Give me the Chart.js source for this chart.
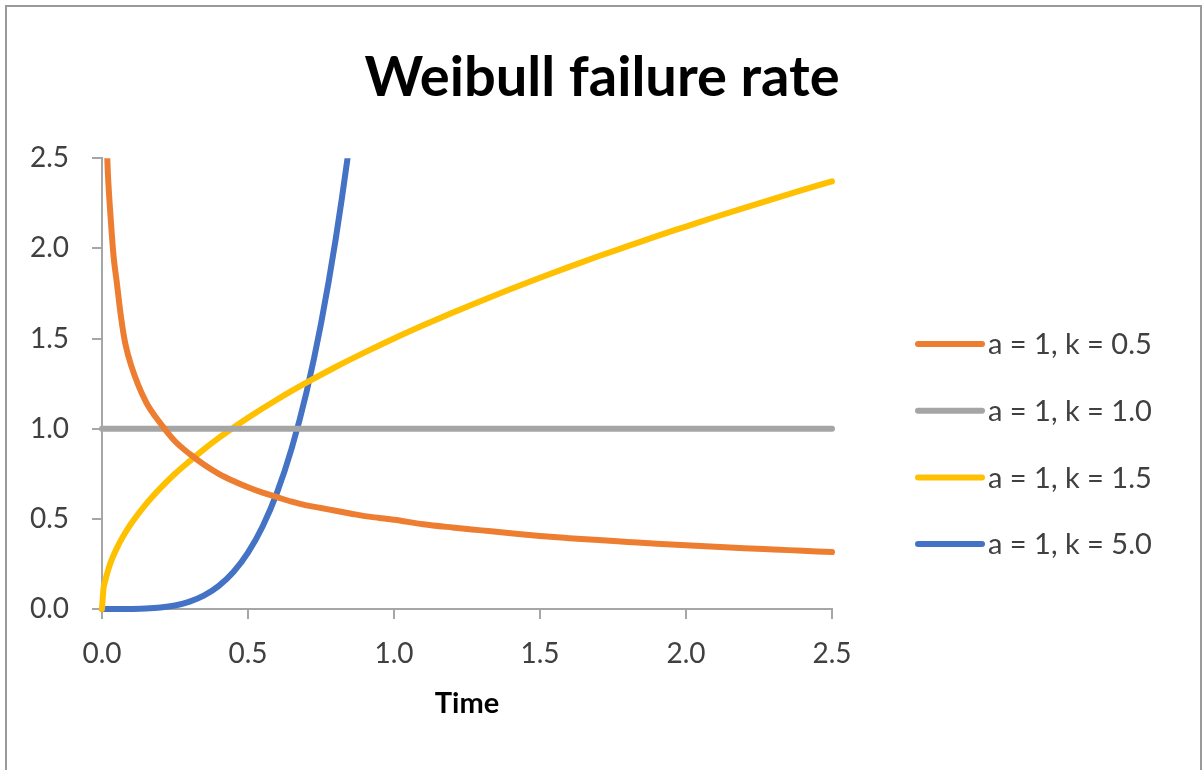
<!DOCTYPE html>
<html>
<head>
<meta charset="utf-8">
<script src="https://cdn.jsdelivr.net/npm/chart.js@4.4.1/dist/chart.umd.min.js"></script>
<style>
  html, body { margin: 0; padding: 0; background: #fff; }
  #wrap { position: relative; width: 1204px; height: 770px; overflow: hidden; }
  #frame { position: absolute; left: 5px; top: 5px; width: 1197px; height: 800px;
           box-sizing: border-box; border: 2px solid #9a9a9a; pointer-events: none; }
  canvas { position: absolute; left: 0; top: 0; }
</style>
</head>
<body>
<div id="wrap">
  <canvas id="c" width="1204" height="770"></canvas>
  <div id="frame"></div>
</div>
<script>
// ---- data ----
const chartTitle = "Weibull failure rate";
const xAxisTitle = "Time";
const seriesNames = ["a = 1, k = 0.5", "a = 1, k = 1.0", "a = 1, k = 1.5", "a = 1, k = 5.0"];
const seriesColors = ["#ED7D31", "#A5A5A5", "#FFC000", "#4472C4"];

const timeK05 = [0.01, 0.02, 0.03, 0.04, 0.05, 0.065, 0.08, 0.1, 0.15, 0.2, 0.25, 0.3, 0.35, 0.4, 0.45, 0.5,
                 0.55, 0.6, 0.65, 0.7, 0.75, 0.8, 0.85, 0.9, 0.95, 1.0, 1.1, 1.2, 1.3, 1.4, 1.5, 1.6, 1.7,
                 1.8, 1.9, 2.0, 2.1, 2.2, 2.3, 2.4, 2.5];
const rateK05 = [2.85, 2.42, 2.16, 1.95, 1.82, 1.62, 1.47, 1.35, 1.15, 1.03, 0.93, 0.86, 0.80, 0.75, 0.71, 0.675,
                 0.645, 0.62, 0.595, 0.575, 0.56, 0.545, 0.53, 0.515, 0.505, 0.495, 0.47, 0.452, 0.436, 0.42, 0.405, 0.393, 0.382,
                 0.372, 0.362, 0.353, 0.345, 0.337, 0.33, 0.323, 0.316];

const timeK10 = [0.0, 2.5];
const rateK10 = [1.0, 1.0];

const timeK15 = [0.0, 0.005, 0.01, 0.02, 0.03, 0.05, 0.075, 0.1, 0.15, 0.2, 0.25, 0.3, 0.35, 0.4, 0.45, 0.5,
                 0.6, 0.7, 0.8, 0.9, 1.0, 1.1, 1.2, 1.3, 1.4, 1.5, 1.6, 1.7, 1.8, 1.9, 2.0, 2.1, 2.2, 2.3, 2.4, 2.5];
const rateK15 = [0.0, 0.11, 0.15, 0.21, 0.26, 0.335, 0.41, 0.474, 0.58, 0.67, 0.75, 0.82, 0.887, 0.949, 1.006, 1.061,
                 1.162, 1.255, 1.342, 1.423, 1.5, 1.573, 1.643, 1.71, 1.775, 1.837, 1.897, 1.956, 2.012, 2.068, 2.121, 2.174, 2.225, 2.275, 2.324, 2.372];

const timeK50 = [0.0, 0.05, 0.1, 0.15, 0.2, 0.25, 0.3, 0.35, 0.4, 0.45, 0.5, 0.55, 0.6, 0.65, 0.7, 0.75, 0.8, 0.85, 0.9];
const rateK50 = [0.0, 0.0, 0.0005, 0.0025, 0.008, 0.0195, 0.0405, 0.075, 0.128, 0.205, 0.3125, 0.4575, 0.648, 0.893, 1.2, 1.582, 2.048, 2.61, 3.28];

const axisTicks = [0.0, 0.5, 1.0, 1.5, 2.0, 2.5];

// ---- build chart ----
const pairs = (xs, ys) => xs.map((x, i) => ({ x: x, y: ys[i] }));
const seriesData = [pairs(timeK05, rateK05), pairs(timeK10, rateK10), pairs(timeK15, rateK15), pairs(timeK50, rateK50)];

const FONT = "Lato, 'Open Sans', 'DejaVu Sans', sans-serif";
const AXIS_COLOR = "#A6A6A6";
const TEXT_COLOR = "#404040";

const datasets = seriesData.map((d, i) => ({
  label: seriesNames[i],
  data: d,
  xAxisID: 'x',
  yAxisID: 'y',
  borderColor: seriesColors[i],
  backgroundColor: seriesColors[i],
  borderWidth: 6,
  pointRadius: 0,
  pointHoverRadius: 0,
  fill: false,
  cubicInterpolationMode: 'monotone',
  borderJoinStyle: 'round',
  borderCapStyle: 'round',
  clip: { left: 10, top: 0, right: 10, bottom: 10 }
}));

const legendPlugin = {
  id: 'sideLegend',
  afterDraw(chart) {
    const ctx = chart.ctx;
    const x0 = 918, x1 = 982, textX = 988;
    const firstY = 344, step = 66.7;
    ctx.save();
    chart.data.datasets.forEach((ds, i) => {
      const y = firstY + i * step;
      ctx.beginPath();
      ctx.strokeStyle = ds.borderColor;
      ctx.lineWidth = 6;
      ctx.lineCap = 'round';
      ctx.moveTo(x0, y);
      ctx.lineTo(x1, y);
      ctx.stroke();
      ctx.fillStyle = TEXT_COLOR;
      ctx.font = "29px " + FONT;
      ctx.textAlign = 'left';
      ctx.textBaseline = 'middle';
      ctx.fillText(ds.label, textX, y + 1);
    });
    ctx.restore();
  }
};

new Chart(document.getElementById('c'), {
  type: 'line',
  data: { datasets: datasets },
  options: {
    responsive: false,
    animation: false,
    events: [],
    layout: { padding: 0 },
    plugins: {
      legend: { display: false },
      tooltip: { enabled: false },
      title: {
        display: true,
        text: chartTitle,
        color: '#000000',
        font: { family: FONT, size: 56, weight: 'bold' },
        padding: { top: 44, bottom: 47 }
      }
    },
    scales: {
      x: {
        type: 'linear',
        min: 0, max: 2.5,
        afterFit: (s) => { s.height = 161; },
        afterBuildTicks: (s) => { s.ticks = axisTicks.map(v => ({ value: v })); },
        ticks: {
          color: TEXT_COLOR,
          font: { family: FONT, size: 28 },
          padding: 18,
          maxRotation: 0,
          callback: (v) => Number(v).toFixed(1)
        },
        grid: { drawOnChartArea: false, drawTicks: true, tickLength: 10, color: AXIS_COLOR, lineWidth: 2 },
        border: { display: true, color: AXIS_COLOR, width: 2 },
        title: {
          display: true,
          text: xAxisTitle,
          color: '#000000',
          font: { family: FONT, size: 29, weight: 'bold' },
          padding: { top: 0, bottom: 49 }
        }
      },
      y: {
        type: 'linear',
        position: 'left',
        min: 0, max: 2.5,
        afterFit: (s) => { s.width = 102; },
        afterBuildTicks: (s) => { s.ticks = axisTicks.map(v => ({ value: v })); },
        ticks: {
          color: TEXT_COLOR,
          font: { family: FONT, size: 28 },
          padding: 23,
          callback: (v) => Number(v).toFixed(1)
        },
        grid: { drawOnChartArea: false, drawTicks: true, tickLength: 10, color: AXIS_COLOR, lineWidth: 2 },
        border: { display: true, color: AXIS_COLOR, width: 2 }
      },
      legendSpace: {
        type: 'linear',
        position: 'right',
        display: true,
        min: 0, max: 1,
        afterFit: (s) => { s.width = 372; },
        ticks: { display: false },
        grid: { display: false, drawTicks: false },
        border: { display: false }
      }
    }
  },
  plugins: [legendPlugin]
});
</script>
</body>
</html>
